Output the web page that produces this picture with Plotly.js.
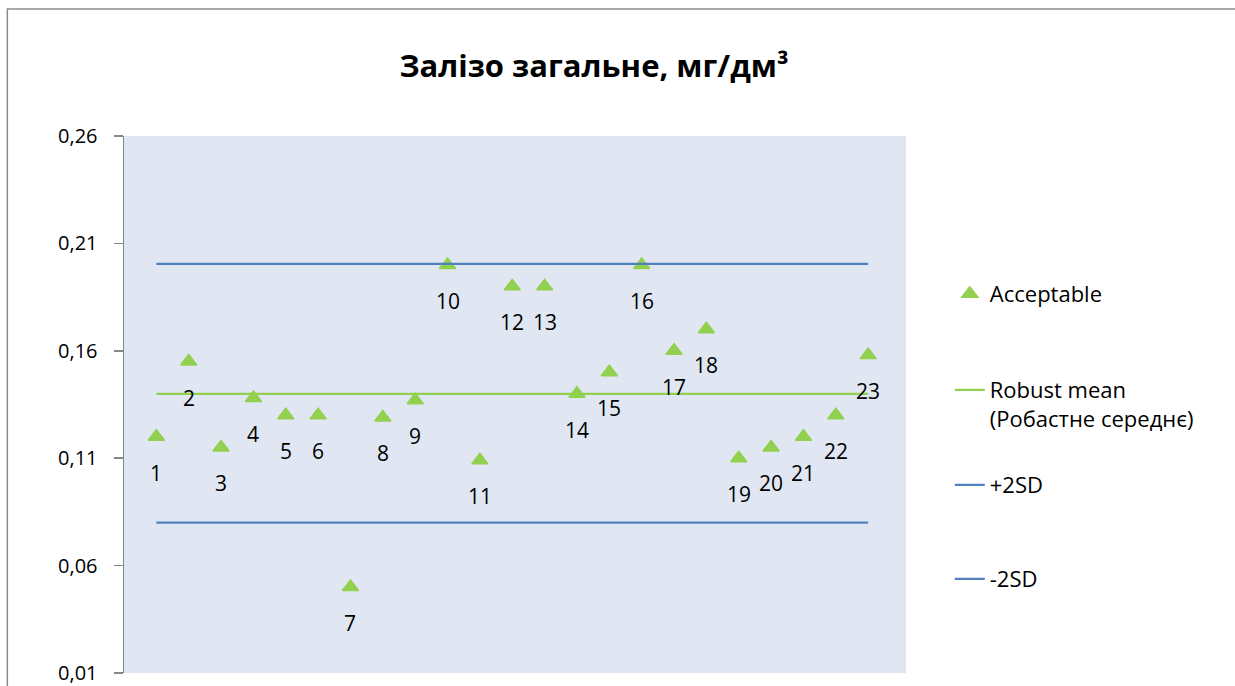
<!DOCTYPE html>
<html>
<head>
<meta charset="utf-8">
<script src="https://cdn.plot.ly/plotly-3.0.1.min.js"></script>
<style>
  html, body { margin: 0; padding: 0; background: #ffffff; }
  #chart { width: 1235px; height: 686px; }
</style>
</head>
<body>
<div id="chart"></div>
<script>
// ---- data ----
const labNumbers = [1, 2, 3, 4, 5, 6, 7, 8, 9, 10, 11, 12, 13, 14, 15, 16, 17, 18, 19, 20, 21, 22, 23];
const labLabels = ['1', '2', '3', '4', '5', '6', '7', '8', '9', '10', '11', '12', '13', '14', '15', '16', '17', '18', '19', '20', '21', '22', '23'];
const labResults = [0.120, 0.155, 0.115, 0.138, 0.130, 0.130, 0.050, 0.129, 0.137, 0.200, 0.109, 0.190, 0.190,
                    0.140, 0.150, 0.200, 0.160, 0.170, 0.110, 0.115, 0.120, 0.130, 0.158];
const robustMean = 0.140;
const plus2SD = 0.2005;
const minus2SD = 0.080;
const lineX = [labNumbers[0], labNumbers[labNumbers.length - 1]];
const yTicks = [0.01, 0.06, 0.11, 0.16, 0.21, 0.26];

const titleText = 'Залізо загальне, мг/дм³';
const nameAcceptable = 'Acceptable';
const nameMean = 'Robust mean<br>(Робастне середнє)';
const namePlus = '+2SD';
const nameMinus = '-2SD';

// ---- styling ----
const FONT = 'Open Sans, Noto Sans, DejaVu Sans, sans-serif';
const GREEN = '#92D050';
const BLUE = '#4F81BD';
const AXIS = '#868686';

const traces = [
  {
    x: labNumbers, y: labResults, type: 'scatter', mode: 'markers', name: nameAcceptable,
    marker: { symbol: 'triangle-up', size: 14, color: GREEN, line: { color: GREEN, width: 1.5 } },
    legend: 'legend', hoverinfo: 'x+y'
  },
  {
    x: lineX, y: [robustMean, robustMean], type: 'scatter', mode: 'lines', name: nameMean,
    line: { color: GREEN, width: 2.25 }, legend: 'legend2'
  },
  {
    x: lineX, y: [plus2SD, plus2SD], type: 'scatter', mode: 'lines', name: namePlus,
    line: { color: BLUE, width: 2.25 }, legend: 'legend3'
  },
  {
    x: lineX, y: [minus2SD, minus2SD], type: 'scatter', mode: 'lines', name: nameMinus,
    line: { color: BLUE, width: 2.25 }, legend: 'legend4'
  }
];

const annotations = labNumbers.map((xv, i) => ({
  x: xv, y: labResults[i], xref: 'x', yref: 'y', text: labLabels[i],
  showarrow: false, yshift: -36, xanchor: 'center', yanchor: 'middle',
  font: { family: FONT, size: 21, color: '#000000' }
}));

function legendAt(yPaper) {
  return {
    x: 1.056, xanchor: 'left', y: yPaper, yanchor: 'middle',
    bgcolor: 'rgba(0,0,0,0)', borderwidth: 0, valign: 'top',
    font: { family: FONT, size: 22, color: '#000000' }
  };
}

const layout = {
  width: 1235, height: 686,
  margin: { l: 124, r: 329, t: 136, b: 13, pad: 0 },
  paper_bgcolor: '#ffffff',
  plot_bgcolor: '#E0E7F2',
  separators: ', ',
  font: { family: FONT, color: '#000000' },
  title: {
    text: titleText, xref: 'container', yref: 'container', x: 0.481, y: 0.904,
    xanchor: 'center', yanchor: 'middle',
    font: { family: FONT, size: 31, color: '#000000', weight: 'bold' }
  },
  xaxis: {
    range: [0, 24.17], visible: false, showgrid: false, zeroline: false, fixedrange: true
  },
  yaxis: {
    range: [0.01, 0.26], tickvals: yTicks, tickformat: '.2f',
    showgrid: false, zeroline: false, showline: true, linecolor: AXIS, linewidth: 1.5,
    ticks: 'outside', ticklen: 9, tickcolor: AXIS, tickwidth: 1.5,
    ticklabelstandoff: 12, ticklabeloverflow: 'allow',
    tickfont: { family: FONT, size: 20, color: '#000000' }, fixedrange: true
  },
  showlegend: true,
  legend: legendAt(0.706),
  legend2: legendAt(0.500),
  legend3: legendAt(0.350),
  legend4: legendAt(0.175),
  annotations: annotations,
  shapes: [{
    type: 'rect', xref: 'paper', yref: 'paper',
    x0: -0.1492, x1: 1.45, y0: -0.1, y1: 1.2365,
    line: { color: '#8C8C8C', width: 1.5 }, fillcolor: 'rgba(0,0,0,0)', layer: 'below'
  }]
};

Plotly.newPlot('chart', traces, layout, { staticPlot: true, displayModeBar: false });
</script>
</body>
</html>
